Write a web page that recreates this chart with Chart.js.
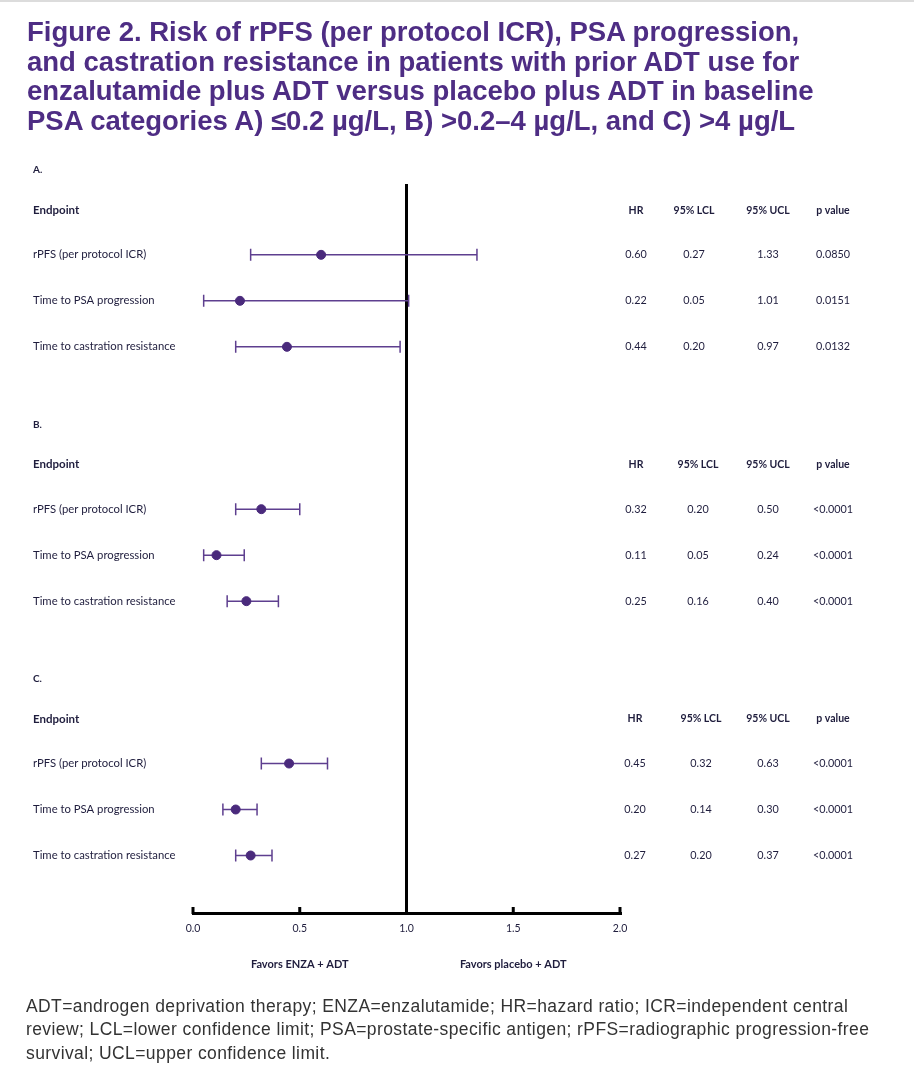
<!DOCTYPE html>
<html>
<head>
<meta charset="utf-8">
<script src="https://cdn.jsdelivr.net/npm/chart.js@4/dist/chart.umd.min.js"></script>
<style>
  body { margin: 0; background: #fff; }
  #wrap { position: relative; width: 914px; height: 1070px; border-top: 2px solid #dcdcdc; box-sizing: border-box; overflow: hidden; }
  #chart { position: absolute; left: 0; top: -1px; }
  #title { position: absolute; left: 27px; top: 15px; width: 880px; font-family: "Liberation Sans", Arial, sans-serif; font-weight: bold; font-size: 27.5px; line-height: 29.5px; color: #4e2d84; }
  #foot { position: absolute; left: 26px; top: 993px; width: 885px; font-family: "Liberation Sans", Arial, sans-serif; font-size: 17.5px; letter-spacing: 0.4px; line-height: 23.3px; color: #333; }
</style>
</head>
<body>
<div id="wrap">
  <canvas id="chart" width="914" height="1070"></canvas>
  <div id="title">Figure 2. Risk of rPFS (per protocol ICR), PSA progression,<br>and castration resistance in patients with prior ADT use for<br>enzalutamide plus ADT versus placebo plus ADT in baseline<br>PSA categories A) ≤0.2 µg/L, B) &gt;0.2–4 µg/L, and C) &gt;4 µg/L</div>
  <div id="foot">ADT=androgen deprivation therapy; ENZA=enzalutamide; HR=hazard ratio; ICR=independent central<br>review; LCL=lower confidence limit; PSA=prostate-specific antigen; rPFS=radiographic progression-free<br>survival; UCL=upper confidence limit.</div>
</div>
<script>
// 数据
var sections  = ['A.', 'B.', 'C.'];
var endpoints = ['rPFS (per protocol ICR)', 'Time to PSA progression', 'Time to castration resistance'];
var hr     = [0.60, 0.22, 0.44,   0.32, 0.11, 0.25,   0.45, 0.20, 0.27];
var lcl    = [0.27, 0.05, 0.20,   0.20, 0.05, 0.16,   0.32, 0.14, 0.20];
var ucl    = [1.33, 1.01, 0.97,   0.50, 0.24, 0.40,   0.63, 0.30, 0.37];
var pvalue = ['0.0850', '0.0151', '0.0132',
              '<0.0001', '<0.0001', '<0.0001',
              '<0.0001', '<0.0001', '<0.0001'];
var columns = ['HR', '95% LCL', '95% UCL', 'p value'];
var xTicks  = [0, 0.5, 1, 1.5, 2];
var favors  = [{ x: 0.5, text: 'Favors ENZA + ADT' }, { x: 1.5, text: 'Favors placebo + ADT' }];

// 布局 (y 轴单位 = 一行)
var SECTION_GAP = 5.53, HEADER_OFF = -0.30, ENDPOINT_OFF = 0.57, ROW0 = 1.54;
var colX = [[636, 694, 768, 833], [636, 698, 768, 833], [635, 701, 768, 833]];
var ink = '#1f1d3d', purple = '#4a2a7c', whisker = '#5e3f8f';

function rowY(i) {
  var s = Math.floor(i / 3), r = i % 3;
  return s * SECTION_GAP + ROW0 + r;
}

var points = hr.map(function (v, i) { return { x: v, y: rowY(i) }; });

var forestPlugin = {
  id: 'forest',
  beforeDatasetsDraw: function (chart) {
    var c = chart.ctx, xs = chart.scales.x, ys = chart.scales.y;
    c.save();
    c.strokeStyle = whisker;
    c.lineWidth = 1.5;
    for (var i = 0; i < hr.length; i++) {
      var y = ys.getPixelForValue(rowY(i));
      var x1 = xs.getPixelForValue(lcl[i]), x2 = xs.getPixelForValue(ucl[i]);
      c.beginPath();
      c.moveTo(x1, y); c.lineTo(x2, y);
      c.moveTo(x1, y - 6); c.lineTo(x1, y + 6);
      c.moveTo(x2, y - 6); c.lineTo(x2, y + 6);
      c.stroke();
    }
    c.restore();
  },
  afterDraw: function (chart) {
    var c = chart.ctx, xs = chart.scales.x, ys = chart.scales.y, area = chart.chartArea;
    c.save();
    // 轴上的小刻度
    c.strokeStyle = '#000';
    c.lineWidth = 3;
    xTicks.forEach(function (t) {
      var px = xs.getPixelForValue(t);
      c.beginPath(); c.moveTo(px, area.bottom - 6); c.lineTo(px, area.bottom + 1); c.stroke();
    });
    c.fillStyle = ink;
    c.textBaseline = 'middle';
    for (var s = 0; s < sections.length; s++) {
      var base = s * SECTION_GAP;
      c.textAlign = 'left';
      c.font = 'bold 10px Lato';
      c.fillText(sections[s], 33, ys.getPixelForValue(base + HEADER_OFF));
      var ey = ys.getPixelForValue(base + ENDPOINT_OFF);
      c.font = 'bold 11.5px Lato';
      c.fillText('Endpoint', 33, ey);
      c.textAlign = 'center';
      c.font = 'bold 10.5px Lato';
      columns.forEach(function (col, k) { c.fillText(col, colX[s][k], ey); });
      for (var r = 0; r < 3; r++) {
        var i = s * 3 + r, y = ys.getPixelForValue(rowY(i));
        c.textAlign = 'left';
        c.font = '11.3px Lato';
        c.fillText(endpoints[r], 33, y);
        c.textAlign = 'center';
        c.font = '10.8px Lato';
        var vals = [hr[i].toFixed(2), lcl[i].toFixed(2), ucl[i].toFixed(2), pvalue[i]];
        vals.forEach(function (v, k) { c.fillText(v, colX[s][k], y); });
      }
    }
    c.textAlign = 'center';
    c.font = 'bold 11px Lato';
    favors.forEach(function (f) { c.fillText(f.text, xs.getPixelForValue(f.x), 963); });
    c.restore();
  }
};

new Chart(document.getElementById('chart'), {
  type: 'scatter',
  data: {
    datasets: [{
      data: points,
      backgroundColor: purple,
      borderColor: purple,
      pointRadius: 4.5,
      pointHoverRadius: 4.5
    }]
  },
  options: {
    responsive: false,
    animation: false,
    layout: { padding: { left: 193, right: 294, top: 183, bottom: 118 } },
    plugins: { legend: { display: false }, tooltip: { enabled: false } },
    scales: {
      x: {
        type: 'linear', min: 0, max: 2,
        afterBuildTicks: function (axis) { axis.ticks = xTicks.map(function (v) { return { value: v }; }); },
        afterFit: function (axis) { axis.height = 40; },
        border: { display: true, color: '#000', width: 3 },
        grid: {
          drawTicks: false,
          lineWidth: 3,
          color: function (ctx) { return ctx.tick && ctx.tick.value === 1 ? '#000' : 'rgba(0,0,0,0)'; }
        },
        ticks: {
          padding: 9,
          color: ink,
          font: { family: 'Lato', size: 10.5 },
          callback: function (v) { return Number(v).toFixed(1); }
        }
      },
      y: {
        type: 'linear', display: false, reverse: true,
        min: 0, max: 15.85
      }
    }
  },
  plugins: [forestPlugin]
});
</script>
</body>
</html>
